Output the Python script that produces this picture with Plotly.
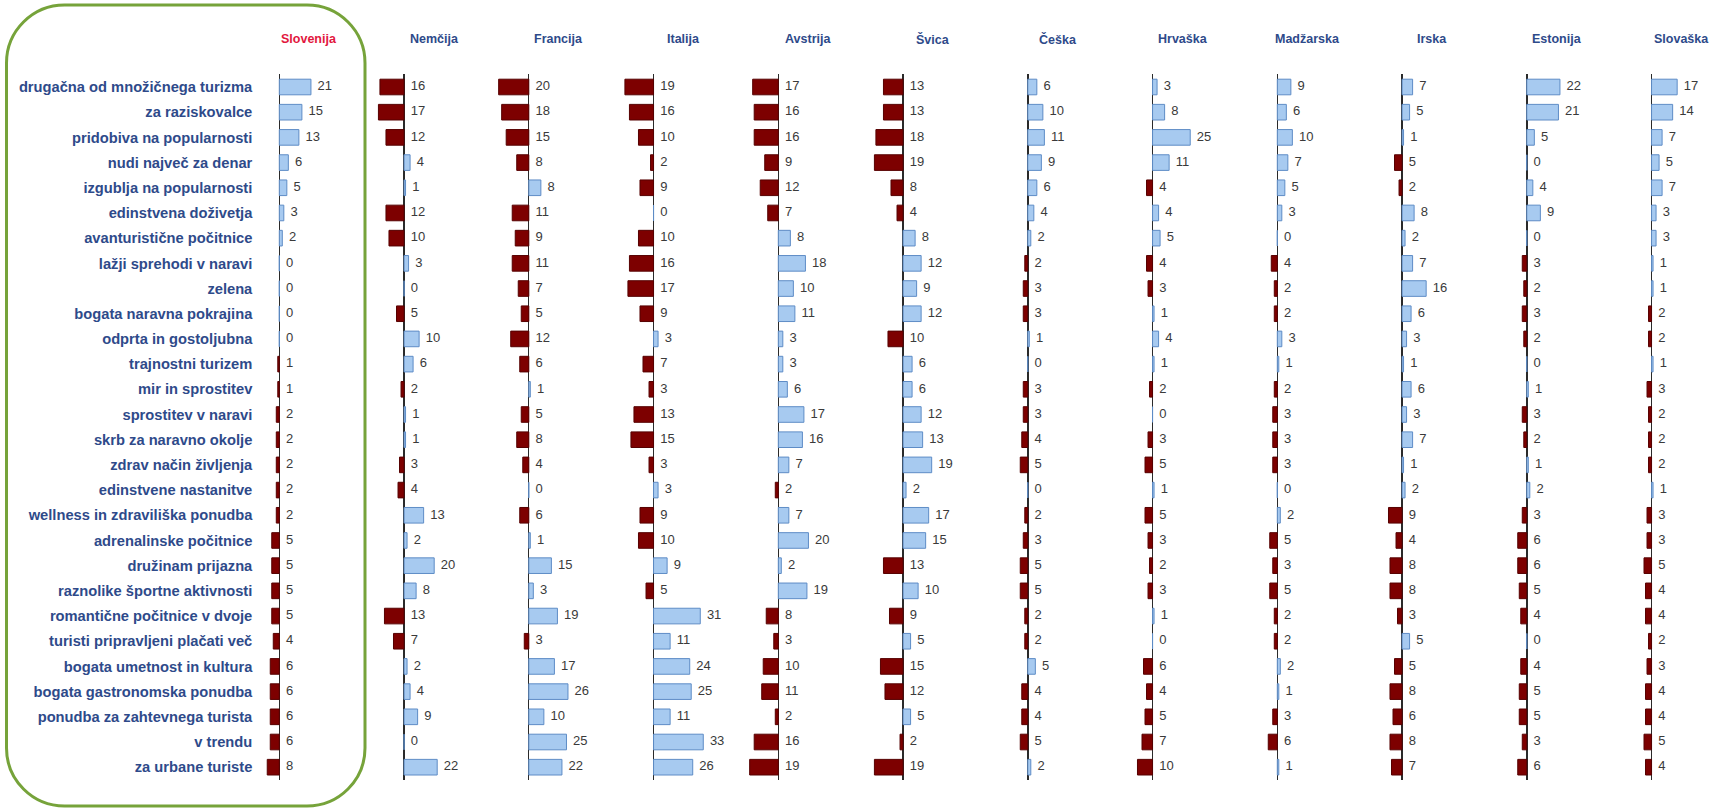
import plotly.graph_objects as go

# ---------------- data ----------------
countries = ["Slovenija", "Nemčija", "Francija", "Italija", "Avstrija", "Švica",
             "Češka", "Hrvaška", "Madžarska", "Irska", "Estonija", "Slovaška"]

attributes = [
    "drugačna od množičnega turizma", "za raziskovalce", "pridobiva na popularnosti",
    "nudi največ za denar", "izgublja na popularnosti", "edinstvena doživetja",
    "avanturistične počitnice", "lažji sprehodi v naravi", "zelena",
    "bogata naravna pokrajina", "odprta in gostoljubna", "trajnostni turizem",
    "mir in sprostitev", "sprostitev v naravi", "skrb za naravno okolje",
    "zdrav način življenja", "edinstvene nastanitve", "wellness in zdraviliška ponudba",
    "adrenalinske počitnice", "družinam prijazna", "raznolike športne aktivnosti",
    "romantične počitnice v dvoje", "turisti pripravljeni plačati več",
    "bogata umetnost in kultura", "bogata gastronomska ponudba",
    "ponudba za zahtevnega turista", "v trendu", "za urbane turiste",
]

slovenija = [21, 15, 13, 6, 5, 3, 2, 0, 0, 0, 0, -1, -1, -2, -2, -2, -2, -2,
             -5, -5, -5, -5, -4, -6, -6, -6, -6, -8]
nemcija = [-16, -17, -12, 4, 1, -12, -10, 3, 0, -5, 10, 6, -2, 1, 1, -3, -4, 13,
           2, 20, 8, -13, -7, 2, 4, 9, 0, 22]
francija = [-20, -18, -15, -8, 8, -11, -9, -11, -7, -5, -12, -6, 1, -5, -8, -4, 0, -6,
            1, 15, 3, 19, -3, 17, 26, 10, 25, 22]
italija = [-19, -16, -10, -2, -9, 0, -10, -16, -17, -9, 3, -7, -3, -13, -15, -3, 3, -9,
           -10, 9, -5, 31, 11, 24, 25, 11, 33, 26]
avstrija = [-17, -16, -16, -9, -12, -7, 8, 18, 10, 11, 3, 3, 6, 17, 16, 7, -2, 7,
            20, 2, 19, -8, -3, -10, -11, -2, -16, -19]
svica = [-13, -13, -18, -19, -8, -4, 8, 12, 9, 12, -10, 6, 6, 12, 13, 19, 2, 17,
         15, -13, 10, -9, 5, -15, -12, 5, -2, -19]
ceska = [6, 10, 11, 9, 6, 4, 2, -2, -3, -3, 1, 0, -3, -3, -4, -5, 0, -2,
         -3, -5, -5, -2, -2, 5, -4, -4, -5, 2]
hrvaska = [3, 8, 25, 11, -4, 4, 5, -4, -3, 1, 4, 1, -2, 0, -3, -5, 1, -5,
           -3, -2, -3, 1, 0, -6, -4, -5, -7, -10]
madzarska = [9, 6, 10, 7, 5, 3, 0, -4, -2, -2, 3, 1, -2, -3, -3, -3, 0, 2,
             -5, -3, -5, -2, -2, 2, 1, -3, -6, 1]
irska = [7, 5, 1, -5, -2, 8, 2, 7, 16, 6, 3, 1, 6, 3, 7, 1, 2, -9,
         -4, -8, -8, -3, 5, -5, -8, -6, -8, -7]
estonija = [22, 21, 5, 0, 4, 9, 0, -3, -2, -3, -2, 0, 1, -3, -2, 1, 2, -3,
            -6, -6, -5, -4, 0, -4, -5, -5, -3, -6]
slovaska = [17, 14, 7, 5, 7, 3, 3, 1, 1, -2, -2, 1, -3, -2, -2, -2, 1, -3,
            -3, -5, -4, -4, -2, -3, -4, -4, -5, -4]

series = [slovenija, nemcija, francija, italija, avstrija, svica,
          ceska, hrvaska, madzarska, irska, estonija, slovaska]

# ---------------- layout constants ----------------
W, H = 1712, 808
PX_PER_UNIT = 1.507
FIRST_ZERO = 279.3
COL_STEP = 124.75
LEFT_PAD, RIGHT_PAD = 40, 84
FIRST_LEFT_PAD = 26
PLOT_TOP, PLOT_BOTTOM = 74.4, 779.8
HEADER_Y = 39.3
HEADER_DX = 30

POS_FILL, POS_LINE = "#A7CAF0", "#5E8CC6"
NEG_FILL, NEG_LINE = "#7D0000", "#560000"
LABEL_BLUE = "#2E4A8A"
HEAD_RED = "#E2173E"
VAL_GRAY = "#3A3A3A"
FONT = "Liberation Sans, Arial, sans-serif"

fig = go.Figure()
layout_axes = {}
annotations = []

for i, (name, vals) in enumerate(zip(countries, series)):
    xa = "x" if i == 0 else f"x{i+1}"
    axname = "xaxis" if i == 0 else f"xaxis{i+1}"
    zero_px = FIRST_ZERO + i * COL_STEP
    lp = FIRST_LEFT_PAD if i == 0 else LEFT_PAD
    left_px = zero_px - lp
    right_px = min(zero_px + RIGHT_PAD, W)

    fig.add_trace(go.Bar(
        x=vals, y=attributes, orientation="h", xaxis=xa, yaxis="y",
        width=0.62,
        marker=dict(color=[POS_FILL if v >= 0 else NEG_FILL for v in vals],
                    line=dict(color=[POS_LINE if v >= 0 else NEG_LINE for v in vals], width=1)),
        hoverinfo="skip", showlegend=False,
    ))
    fig.add_trace(go.Scatter(
        x=[max(v, 0) for v in vals], y=attributes, mode="markers+text",
        marker=dict(size=9, opacity=0),
        text=[str(abs(v)) for v in vals], textposition="middle right",
        textfont=dict(family=FONT, size=13, color=VAL_GRAY),
        xaxis=xa, yaxis="y", hoverinfo="skip", showlegend=False, cliponaxis=False,
    ))
    layout_axes[axname] = dict(
        domain=[left_px / W, right_px / W],
        range=[-lp / PX_PER_UNIT, (right_px - zero_px) / PX_PER_UNIT],
        autorange=False,
        anchor="y", showgrid=False, showticklabels=False, ticks="",
        zeroline=True, zerolinecolor="#2A2A2A", zerolinewidth=1.4,
        showline=False, fixedrange=True,
    )
    annotations.append(dict(
        text=name, xref=xa, x=HEADER_DX / PX_PER_UNIT, yref="paper", y=1 - HEADER_Y / H,
        xanchor="center", yanchor="middle", showarrow=False,
        font=dict(family=FONT, size=12.5, color=HEAD_RED if i == 0 else LABEL_BLUE, weight="bold"),
    ))

# rounded green frame around the Slovenia column
bx0, bx1, by0, by1, r = 6.5, 365, 5, 806, 58
k = 0.5523 * r
def P(x, y):
    return f"{x / W:.6f},{1 - y / H:.6f}"
path = (
    f"M {P(bx0 + r, by0)} L {P(bx1 - r, by0)} "
    f"C {P(bx1 - r + k, by0)} {P(bx1, by0 + r - k)} {P(bx1, by0 + r)} "
    f"L {P(bx1, by1 - r)} "
    f"C {P(bx1, by1 - r + k)} {P(bx1 - r + k, by1)} {P(bx1 - r, by1)} "
    f"L {P(bx0 + r, by1)} "
    f"C {P(bx0 + r - k, by1)} {P(bx0, by1 - r + k)} {P(bx0, by1 - r)} "
    f"L {P(bx0, by0 + r)} "
    f"C {P(bx0, by0 + r - k)} {P(bx0 + r - k, by0)} {P(bx0 + r, by0)} Z"
)

n_rows = len(attributes)
fig.update_layout(
    width=W, height=H,
    margin=dict(l=0, r=0, t=0, b=0),
    paper_bgcolor="white", plot_bgcolor="white",
    showlegend=False, bargap=0.38,
    yaxis=dict(
        domain=[1 - PLOT_BOTTOM / H, 1 - PLOT_TOP / H],
        type="category", categoryorder="array", categoryarray=attributes,
        range=[n_rows - 0.5, -0.5], autorange=False, anchor="x",
        showgrid=False, zeroline=False, showline=False,
        ticks="", ticklen=0,
        tickfont=dict(family=FONT, size=14.7, color=LABEL_BLUE, weight="bold"),
        fixedrange=True,
    ),
    annotations=annotations,
    shapes=[dict(type="path", path=path, xref="paper", yref="paper",
                 line=dict(color="#76A33A", width=3), fillcolor="rgba(0,0,0,0)", layer="above")],
    **layout_axes,
)

fig.write_html(
    "out.html",
    config={"displayModeBar": False, "staticPlot": True},
    post_script="document.body.style.margin='0';document.body.style.overflow='hidden';",
)
